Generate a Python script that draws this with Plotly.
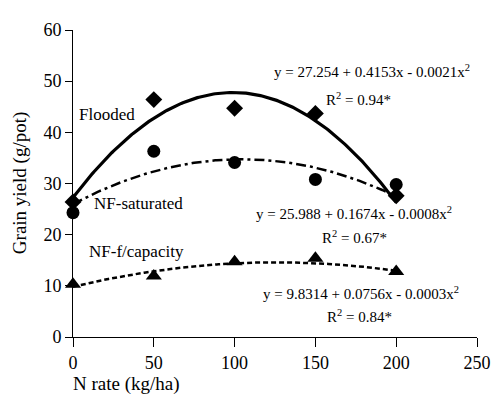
import numpy as np
import plotly.graph_objects as go

# ---- data ----
n_rate = [0, 50, 100, 150, 200]
flooded = [26.4, 46.4, 44.7, 43.7, 27.6]
nf_saturated = [24.3, 36.3, 34.1, 30.8, 29.8]
nf_fcapacity = [10.3, 11.9, 14.7, 15.4, 12.8]

# quadratic fit coefficients (a + b x + c x^2) as printed on the chart
coef_flooded = [27.254, 0.4153, -0.0021]
coef_saturated = [25.988, 0.1674, -0.0008]
coef_fcapacity = [9.8314, 0.0756, -0.0003]

x_ticks = [0, 50, 100, 150, 200, 250]
y_ticks = [0, 10, 20, 30, 40, 50, 60]

FONT = "Liberation Serif"

def fit(coef, xs):
    xs = np.asarray(xs, dtype=float)
    return coef[0] + coef[1] * xs + coef[2] * xs ** 2

xs = np.linspace(min(n_rate), max(n_rate), 201)

fig = go.Figure()

# trend lines
fig.add_trace(go.Scatter(x=xs, y=fit(coef_flooded, xs), mode="lines",
                         line=dict(color="black", width=3.2), cliponaxis=False))
fig.add_trace(go.Scatter(x=xs, y=fit(coef_saturated, xs), mode="lines",
                         line=dict(color="black", width=2.5, dash="10px,4px,3px,4px"),
                         cliponaxis=False))
fig.add_trace(go.Scatter(x=xs, y=fit(coef_fcapacity, xs), mode="lines",
                         line=dict(color="black", width=2.5, dash="5px,3px"),
                         cliponaxis=False))

# markers
fig.add_trace(go.Scatter(x=n_rate, y=flooded, mode="markers",
                         marker=dict(symbol="diamond", size=13, color="black"),
                         cliponaxis=False))
fig.add_trace(go.Scatter(x=n_rate, y=nf_saturated, mode="markers",
                         marker=dict(symbol="circle", size=13, color="black"),
                         cliponaxis=False))
fig.add_trace(go.Scatter(x=n_rate, y=nf_fcapacity, mode="markers",
                         marker=dict(symbol="triangle-up", size=14, color="black"),
                         cliponaxis=False))

def ann(x, y, text, size=17, **kw):
    fig.add_annotation(x=x, y=y, text=text, showarrow=False,
                       font=dict(family=FONT, size=size, color="black"), **kw)

# series labels
ann(20.8, 43.4, "Flooded")
ann(40.3, 26.0, "NF-saturated")
ann(39.1, 16.8, "NF-f/capacity")

# equations
EQ = 15
ann(184.9, 52.0, "y = 27.254 + 0.4153x - 0.0021x<sup>2</sup>", size=EQ)
ann(176.6, 46.6, "R<sup>2</sup> = 0.94*", size=EQ)
ann(173.6, 24.3, "y = 25.988 + 0.1674x - 0.0008x<sup>2</sup>", size=EQ)
ann(174.2, 19.5, "R<sup>2</sup> = 0.67*", size=EQ)
ann(178.5, 8.6, "y = 9.8314 + 0.0756x - 0.0003x<sup>2</sup>", size=EQ)
ann(177.2, 4.2, "R<sup>2</sup> = 0.84*", size=EQ)

# axis titles
fig.add_annotation(xref="paper", yref="paper", x=0.132, y=-0.153,
                   text="N rate (kg/ha)", showarrow=False,
                   font=dict(family=FONT, size=19, color="black"),
                   xanchor="center", yanchor="middle")
fig.add_annotation(xref="paper", yref="paper", x=-0.132, y=0.5,
                   text="Grain yield (g/pot)", showarrow=False, textangle=-90,
                   font=dict(family=FONT, size=19, color="black"),
                   xanchor="center", yanchor="middle")

# page body has an 8px default margin, so size/margins compensate for it
fig.update_layout(
    width=495, height=393,
    margin=dict(l=65, r=21, t=15, b=64),
    paper_bgcolor="white", plot_bgcolor="white",
    showlegend=False,
    font=dict(family=FONT, size=18, color="black"),
    xaxis=dict(range=[0, 250], tickvals=x_ticks, ticks="outside", ticklen=9,
               tickcolor="black", tickwidth=1, showline=True, linecolor="black",
               linewidth=1, showgrid=False, zeroline=False,
               tickfont=dict(family=FONT, size=18, color="black")),
    yaxis=dict(range=[0, 60], tickvals=y_ticks, ticks="outside", ticklen=7,
               tickcolor="black", tickwidth=1, showline=True, linecolor="black",
               linewidth=1, showgrid=False, zeroline=False,
               tickfont=dict(family=FONT, size=18, color="black")),
)

fig.write_html("out.html")
